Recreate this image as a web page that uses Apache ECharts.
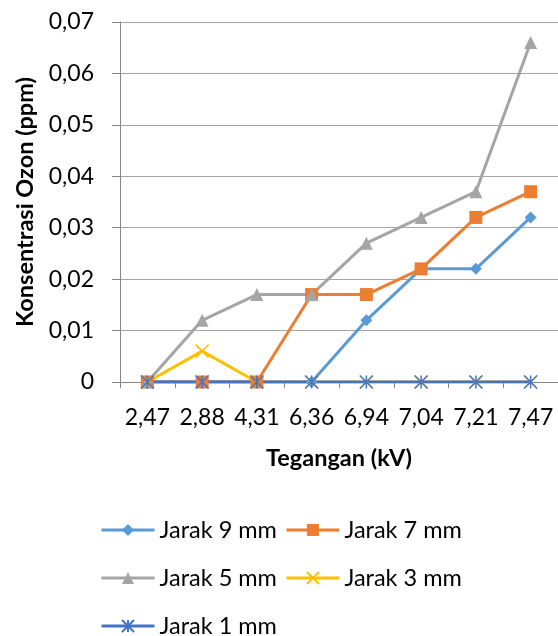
<!DOCTYPE html>
<html>
<head>
<meta charset="utf-8">
<script src="https://cdn.jsdelivr.net/npm/echarts@6/dist/echarts.min.js"></script>
<style>
  html, body { margin: 0; padding: 0; background: #fff; }
  #chart { width: 558px; height: 636px; }
</style>
</head>
<body>
<div id="chart"></div>
<script>
// Voltage categories (kV) and ozone concentration (ppm) per electrode gap
const categories = ['2,47', '2,88', '4,31', '6,36', '6,94', '7,04', '7,21', '7,47'];
const jarak9 = [0, 0, 0, 0, 0.012, 0.022, 0.022, 0.032];
const jarak7 = [0, 0, 0, 0.017, 0.017, 0.022, 0.032, 0.037];
const jarak5 = [0, 0.012, 0.017, 0.017, 0.027, 0.032, 0.037, 0.066];
const jarak3 = [0, 0.006, 0, 0, 0, 0, 0, 0];
const jarak1 = [0, 0, 0, 0, 0, 0, 0, 0];
const seriesNames = ['Jarak 9 mm', 'Jarak 7 mm', 'Jarak 5 mm', 'Jarak 3 mm', 'Jarak 1 mm'];

const FONT = 'Lato';
const crossPath = 'path://M0,0L10,10M10,0L0,10';
const starPath = 'path://M5,0L5,10M0,0L10,10M10,0L0,10';

function lineSeries(name, data, color, symbol, size, stroked) {
  return {
    name: name,
    type: 'line',
    data: data,
    symbol: symbol,
    symbolSize: size,
    showAllSymbol: true,
    lineStyle: { color: color, width: 3 },
    itemStyle: stroked
      ? { color: color, borderColor: color, borderWidth: 1.5 }
      : { color: color, borderWidth: 0 },
    emphasis: { disabled: true },
    animation: false
  };
}

const chart = echarts.init(document.getElementById('chart'), null, { renderer: 'canvas' });
const legendText = { fontFamily: FONT, fontSize: 23.5, color: '#000' };
chart.setOption({
  backgroundColor: '#fff',
  animation: false,
  grid: { left: 120, right: 0, top: 22, bottom: 254 },
  legend: [
    { data: ['Jarak 9 mm', 'Jarak 7 mm'], left: 100, top: 518 },
    { data: ['Jarak 5 mm', 'Jarak 3 mm'], left: 100, top: 566 },
    { data: ['Jarak 1 mm'], left: 100, top: 614 }
  ].map(l => Object.assign(l, {
    orient: 'horizontal', itemWidth: 53, itemHeight: 15, itemGap: 8,
    lineStyle: { width: 3 },
    textStyle: legendText, selectedMode: false, padding: 0
  })),
  xAxis: {
    type: 'category',
    data: categories,
    boundaryGap: true,
    name: 'Tegangan (kV)',
    nameLocation: 'middle',
    nameGap: 64,
    nameTextStyle: { fontFamily: FONT, fontSize: 23.5, fontWeight: 'bold', color: '#000' },
    axisLine: { show: true, lineStyle: { color: '#868686', width: 1 } },
    axisTick: { show: true, alignWithLabel: false, length: 6, lineStyle: { color: '#868686' } },
    axisLabel: { fontFamily: FONT, fontSize: 23, color: '#000', margin: 24, interval: 0 },
    splitLine: { show: false }
  },
  yAxis: {
    type: 'value',
    min: 0,
    max: 0.07,
    interval: 0.01,
    name: 'Konsentrasi Ozon (ppm)',
    nameLocation: 'middle',
    nameGap: 81,
    nameRotate: 90,
    nameTextStyle: { fontFamily: FONT, fontSize: 23.5, fontWeight: 'bold', color: '#000' },
    axisLine: { show: true, lineStyle: { color: '#868686', width: 1 } },
    axisTick: { show: true, length: 8, lineStyle: { color: '#868686' } },
    axisLabel: {
      fontFamily: FONT, fontSize: 23, color: '#000', margin: 26,
      formatter: v => (v === 0 ? '0' : v.toFixed(2).replace('.', ','))
    },
    splitLine: { show: true, lineStyle: { color: '#a6a6a6', width: 1 } }
  },
  series: [
    lineSeries(seriesNames[0], jarak9, '#5B9BD5', 'diamond', 12, false),
    lineSeries(seriesNames[1], jarak7, '#ED7D31', 'rect', 13, false),
    lineSeries(seriesNames[2], jarak5, '#A5A5A5', 'triangle', 13, false),
    lineSeries(seriesNames[3], jarak3, '#FFC000', crossPath, 13, true),
    lineSeries(seriesNames[4], jarak1, '#4472C4', starPath, 13, true)
  ]
});
</script>
</body>
</html>
